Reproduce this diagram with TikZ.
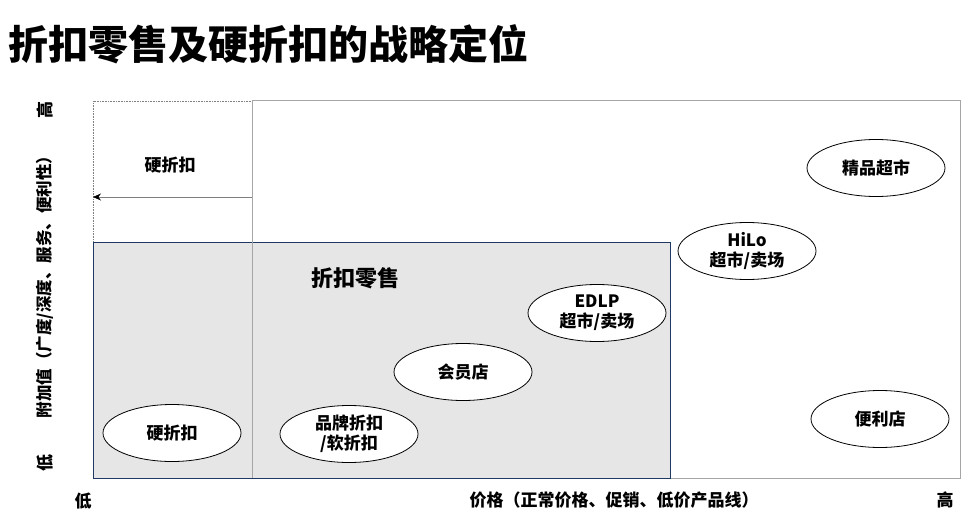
\documentclass[tikz,border=0pt]{standalone}
\usepackage{fontspec}
\setmainfont{Noto Sans CJK SC}
\usetikzlibrary{shapes.geometric,arrows.meta}
\definecolor{boxfill}{HTML}{E7E6E6}
\definecolor{boxline}{HTML}{203864}
\definecolor{frameline}{HTML}{A6A6A6}
\definecolor{arrline}{HTML}{808080}
\begin{document}
\begin{tikzpicture}[x=1pt,y=-1pt,
  font=\bfseries\fontsize{17}{20}\selectfont,
  oval/.style={ellipse, draw=black, fill=white, line width=0.8pt,
    minimum width=138pt, minimum height=57pt, inner sep=0pt, align=center},
  lbl/.style={inner sep=0pt, align=center}]
\useasboundingbox (0,0) rectangle (976,532);
% title
\node[lbl, anchor=west, font=\bfseries\fontsize{40}{44}\selectfont] (title) at (8,44) {折扣零售及硬折扣的战略定位};
% frames
\draw[arrline, densely dotted, line width=0.6pt] (93,478) -- (93,101) -- (252,101);
\draw[frameline, line width=1pt] (252,101) rectangle (960,478);
\draw[boxline, fill=boxfill, line width=0.8pt] (93,242) rectangle (670,478);
\draw[frameline, line width=1pt] (252,101) -- (252,478);
% arrow
\coordinate (arrS) at (252,197);
\coordinate (arrE) at (93,197);
\draw[arrline, line width=0.8pt, -{Stealth[length=8pt,width=7pt,black]}] (arrS) -- (arrE);
% labels
\node[lbl] (hardlbl) at (170,165) {硬折扣};
\node[lbl, font=\bfseries\fontsize{22}{26}\selectfont] (disc) at (355,278) {折扣零售};
% ellipses
\node[oval] (e1) at (172,433) {硬折扣};
\node[oval] (e2) at (349,434) {品牌折扣\\/软折扣};
\node[oval] (e3) at (463,372) {会员店};
\node[oval] (e4) at (597,313) {EDLP\\超市/卖场};
\node[oval] (e5) at (747,251) {HiLo\\超市/卖场};
\node[oval] (e6) at (876,168) {精品超市};
\node[oval] (e7) at (880,419) {便利店};
% axes labels
\node[lbl, rotate=90] (yhi) at (45,110) {高};
\node[lbl, rotate=90] (ylo) at (45,463) {低};
\node[lbl, rotate=90, font=\bfseries\fontsize{16.5}{20}\selectfont] (ylab) at (45,283) {附加值（广度/深度、服务、便利性）};
\node[lbl] (xlo) at (83,501) {低};
\node[lbl] (xlab) at (614,500) {价格（正常价格、促销、低价产品线）};
\node[lbl] (xhi) at (945,500) {高};
\end{tikzpicture}
\end{document}
